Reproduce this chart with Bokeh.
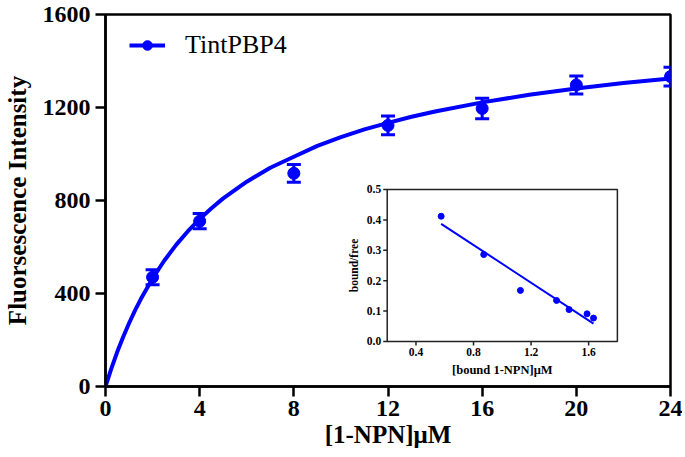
from bokeh.plotting import figure
from bokeh.models import Range1d, FixedTicker, Whisker, TeeHead, ColumnDataSource, Legend, LegendItem
from bokeh.core.properties import value
from bokeh.embed import file_html
from bokeh.resources import INLINE

# ---- main data ----
conc = [2, 4, 8, 12, 16, 20, 24]
fluor = [470, 711, 917, 1123, 1196, 1297, 1333]
fluor_err = [32, 33, 38, 40, 44, 39, 40]

curve_x = [0, 0.25, 0.5, 0.75, 1, 1.25, 1.5, 2, 2.5, 3, 3.5, 4, 4.5, 5, 6, 7, 8, 9, 10,
           11, 12, 13, 14, 16, 18, 20, 22, 24]
curve_y = [0, 78, 149, 213, 272, 326, 376, 465, 542, 609, 668, 720, 767, 809, 881, 941, 988, 1035, 1073,
           1106, 1134, 1160, 1183, 1222, 1255, 1282, 1305, 1325]

x_ticks = [0, 4, 8, 12, 16, 20, 24]
y_ticks = [0, 400, 800, 1200, 1600]

# ---- inset (Scatchard) data ----
bound = [0.575, 0.871, 1.126, 1.377, 1.464, 1.589, 1.634]
ratio = [0.412, 0.286, 0.168, 0.135, 0.105, 0.091, 0.077]
fit_x = [0.575, 1.634]
fit_y = [0.387, 0.059]
ix_ticks = [0.4, 0.8, 1.2, 1.6]
iy_ticks = [0.0, 0.1, 0.2, 0.3, 0.4, 0.5]
ix_labels = ["0.4", "0.8", "1.2", "1.6"]
iy_labels = ["0.0", "0.1", "0.2", "0.3", "0.4", "0.5"]

FONT = "Liberation Serif"
BLUE = "#0000ff"
FW, FH = 565, 372

p = figure(frame_width=FW, frame_height=FH, output_backend="svg", toolbar_location=None,
           x_range=Range1d(0, 24), y_range=Range1d(0, 1600),
           min_border_left=0, min_border_right=12, min_border_top=14, min_border_bottom=0)
p.background_fill_color = "white"
p.border_fill_color = "white"
p.grid.visible = False
p.outline_line_color = "black"
p.outline_line_width = 2.5
p.outline_line_alpha = 1

for ax in (p.xaxis[0], p.yaxis[0]):
    ax.axis_line_width = 2.5
    ax.major_tick_line_width = 2.5
    ax.major_tick_out = 10
    ax.major_tick_in = 0
    ax.minor_tick_line_color = None
    ax.major_label_text_font = FONT
    ax.major_label_text_font_style = "bold"
    ax.major_label_text_font_size = "24px"
    ax.major_label_text_color = "black"
    ax.axis_label_text_font = FONT
    ax.axis_label_text_font_style = "bold"
    ax.axis_label_text_font_size = "25px"
    ax.axis_label_text_color = "black"

p.xaxis.ticker = FixedTicker(ticks=x_ticks)
p.yaxis.ticker = FixedTicker(ticks=y_ticks)
p.xaxis.axis_label = "[1-NPN]μM"
p.yaxis.axis_label = "Fluorsescence Intensity"
p.xaxis.major_label_standoff = 4
p.yaxis.major_label_standoff = 5
p.xaxis.axis_label_standoff = 2
p.yaxis.axis_label_standoff = 9

# main curve, points, errors
src = ColumnDataSource(dict(x=conc, y=fluor,
                            lo=[a - b for a, b in zip(fluor, fluor_err)],
                            hi=[a + b for a, b in zip(fluor, fluor_err)]))
ln = p.line(curve_x, curve_y, line_color=BLUE, line_width=4)
w = Whisker(source=src, base="x", upper="hi", lower="lo", line_color=BLUE, line_width=3,
            upper_head=TeeHead(size=14, line_color=BLUE, line_width=3),
            lower_head=TeeHead(size=14, line_color=BLUE, line_width=3))
p.add_layout(w)
sc = p.scatter("x", "y", source=src, size=12, marker="circle", fill_color=BLUE, line_color=BLUE)

leg = Legend(items=[LegendItem(label="TintPBP4", renderers=[ln, sc])],
             location=(24, FH - 46), border_line_color=None, background_fill_alpha=0,
             label_text_font=FONT, label_text_font_size="26px", label_text_color="black",
             glyph_width=36, glyph_height=24, label_standoff=20, padding=6, margin=0)
p.add_layout(leg, "center")

# ---- inset via extra ranges ----
fl, fr = 0.4986, 0.906        # inset frame, fraction of main frame width
fb, ft = 0.121, 0.5296        # inset frame, fraction of main frame height
ix0, ix1 = 0.2, 1.8
iy0, iy1 = 0.0, 0.5
xspan = (ix1 - ix0) / (fr - fl)
yspan = (iy1 - iy0) / (ft - fb)
p.extra_x_ranges = {"ix": Range1d(ix0 - fl * xspan, ix0 - fl * xspan + xspan)}
p.extra_y_ranges = {"iy": Range1d(iy0 - fb * yspan, iy0 - fb * yspan + yspan)}
xpx = xspan / FW   # data units per pixel
ypx = yspan / FH
kw = dict(x_range_name="ix", y_range_name="iy")

p.quad(left=[ix0], right=[ix1], bottom=[iy0], top=[iy1], fill_color="white",
       line_color="#222222", line_width=1.5, **kw)
tick = 4
p.segment(x0=ix_ticks, x1=ix_ticks, y0=[iy0] * len(ix_ticks), y1=[iy0 - tick * ypx] * len(ix_ticks),
          line_color="#222222", line_width=1.5, **kw)
p.segment(x0=[ix0] * len(iy_ticks), x1=[ix0 - tick * xpx] * len(iy_ticks), y0=iy_ticks, y1=iy_ticks,
          line_color="#222222", line_width=1.5, **kw)
p.text(x=ix_ticks, y=[iy0] * len(ix_ticks), text=ix_labels, y_offset=7,
       text_align="center", text_baseline="top", text_font=value(FONT), text_font_style="bold",
       text_font_size="11.5px", text_color="black", **kw)
p.text(x=[ix0] * len(iy_ticks), y=iy_ticks, text=iy_labels, x_offset=-6,
       text_align="right", text_baseline="middle", text_font=value(FONT), text_font_style="bold",
       text_font_size="11.5px", text_color="black", **kw)
p.text(x=[(ix0 + ix1) / 2], y=[iy0], text=["[bound 1-NPN]μM"], y_offset=22,
       text_align="center", text_baseline="top", text_font=value(FONT), text_font_style="bold",
       text_font_size="12.5px", text_color="black", **kw)
p.text(x=[ix0], y=[(iy0 + iy1) / 2], text=["bound/free"], x_offset=-33, angle=1.5708,
       text_align="center", text_baseline="middle", text_font=value(FONT), text_font_style="bold",
       text_font_size="11.5px", text_color="black", **kw)

p.line(fit_x, fit_y, line_color=BLUE, line_width=2, **kw)
p.scatter(bound, ratio, size=6, marker="circle", fill_color=BLUE, line_color=BLUE, **kw)

open("out.html", "w").write(file_html(p, INLINE))
